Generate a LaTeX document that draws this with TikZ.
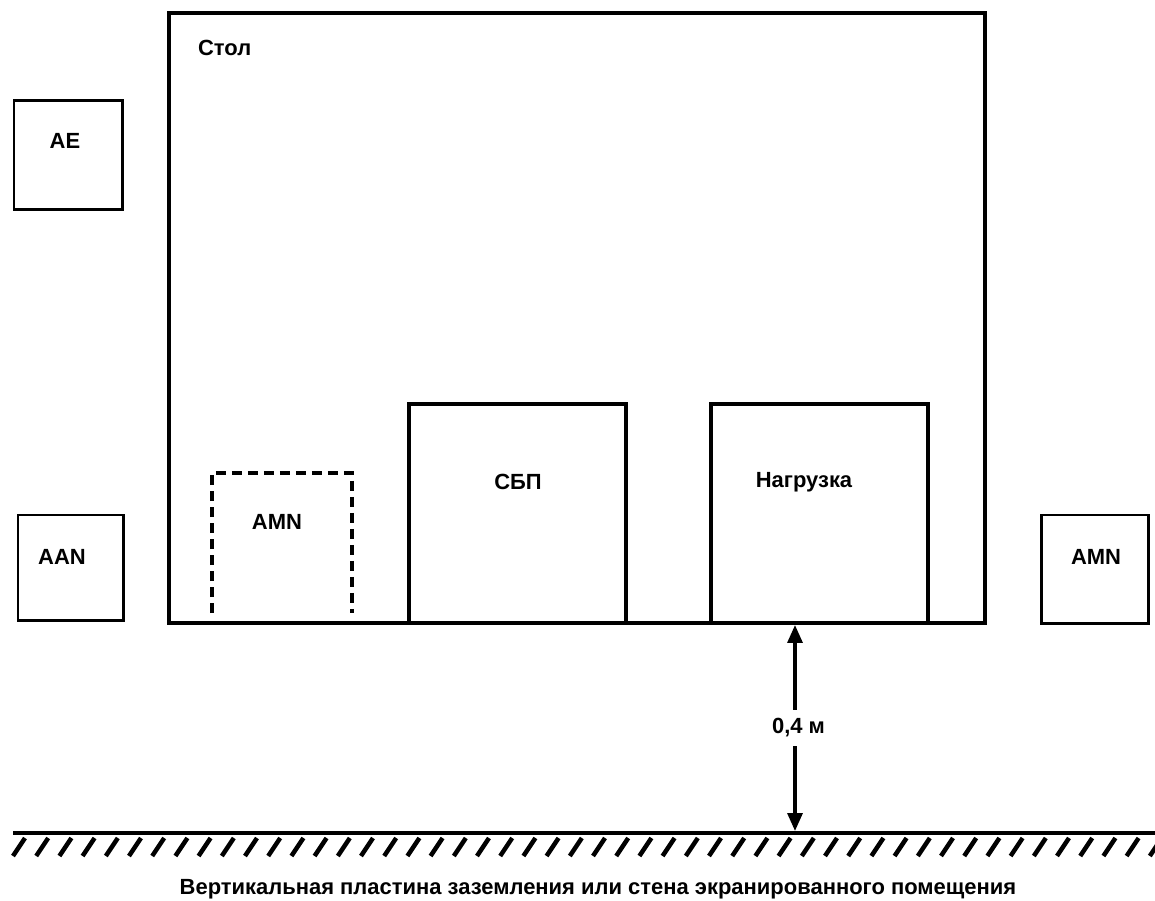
\documentclass[tikz,border=0pt]{standalone}
\usepackage{fontspec}
\setmainfont{Liberation Sans}
\usetikzlibrary{arrows.meta}
\begin{document}
\begin{tikzpicture}[x=0.02cm,y=-0.02cm,
  box/.style={draw,line width=0.06cm,inner sep=0pt},
  tbl/.style={draw,line width=0.08cm,inner sep=0pt},
  lbl/.style={font=\fontsize{12.5}{15}\selectfont\bfseries,inner sep=1pt},
  dbox/.style={line width=0.065cm,dash pattern=on 0.2cm off 0.12cm},
  gnd/.style={line width=0.085cm},
  hatch/.style={line width=0.09cm},
  dim/.style={line width=0.065cm,{Triangle[length=0.36cm,width=0.3cm]}-{Triangle[length=0.36cm,width=0.3cm]}}]
\useasboundingbox (0,0) rectangle (1155,901);
% table
\node[tbl,minimum width=816*0.02cm,minimum height=610*0.02cm] (table) at (576.5,318) {};
\node[lbl,anchor=west] (tabletxt) at (196,48) {Стол};
% AE
\node[box,minimum width=108*0.02cm,minimum height=109*0.02cm] (ae) at (68,155.5) {};
\node[lbl] (aetxt) at (65,141) {AE};
% AAN
\node[box,minimum width=105*0.02cm,minimum height=105*0.02cm] (aan) at (70.5,567.5) {};
\node[lbl] (aantxt) at (62,557) {AAN};
% AMN right
\node[box,minimum width=107*0.02cm,minimum height=108*0.02cm] (amnr) at (1094.5,569) {};
\node[lbl] (amnrtxt) at (1096,557) {AMN};
% SBP
\node[tbl,minimum width=217*0.02cm,minimum height=219*0.02cm] (sbp) at (517.5,513.5) {};
\node[lbl] (sbptxt) at (518,482) {СБП};
% Load
\node[tbl,minimum width=217*0.02cm,minimum height=219*0.02cm] (load) at (819.5,513.5) {};
\node[lbl] (loadtxt) at (804,482) {Нагрузка};
% dashed AMN
\coordinate (d1) at (212,613);
\coordinate (d2) at (212,473);
\coordinate (d3) at (352,473);
\coordinate (d4) at (352,613);
\draw[dbox] (d1) -- (d2) -- (d3) -- (d4);
\node[lbl] (amndtxt) at (277,522) {AMN};
% ground
\coordinate (g1) at (13,833);
\coordinate (g2) at (1155,833);
\draw[gnd] (g1) -- (g2);
\foreach \i in {0,...,49} {
  \draw[hatch] (13+23.2*\i,856) -- (25+23.2*\i,838);
}
\node[lbl] (gndtxt) at (598,889) {Вертикальная пластина заземления или стена экранированного помещения};
% dimension
\coordinate (dtop) at (795,625);
\coordinate (dbot) at (795,831);
\draw[dim] (dtop) -- (dbot) node[midway,fill=white,lbl,inner sep=5pt,xshift=2pt] (dimtxt) {0,4 м};
\end{tikzpicture}
\end{document}
